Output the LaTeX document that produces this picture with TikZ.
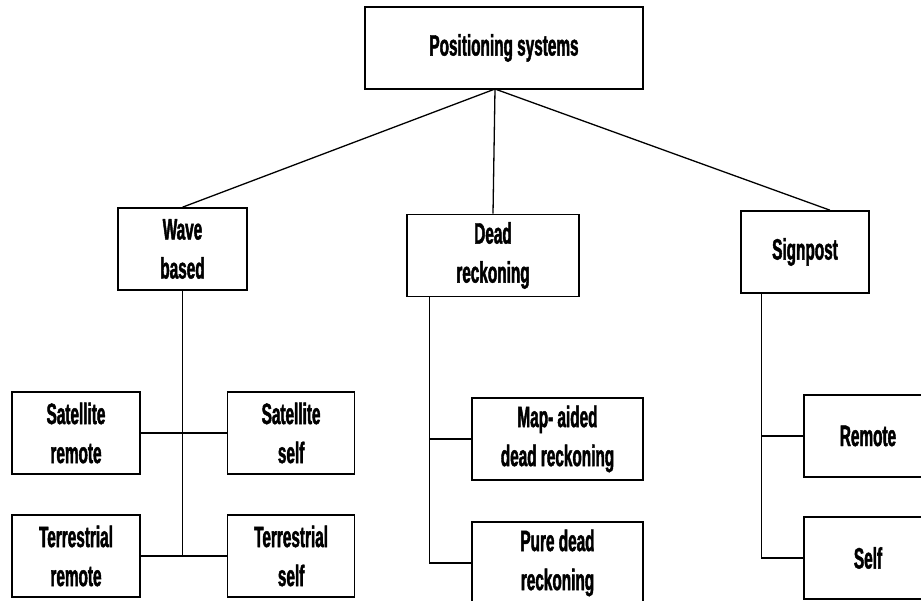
\documentclass[tikz,border=0pt]{standalone}
\usepackage{fontspec}
\newfontfamily\boxfont{Liberation Sans}[FakeStretch=0.52, FakeBold=1.5]
\usepackage{tikz}
\usetikzlibrary{positioning, calc}

\begin{document}
\begin{tikzpicture}[
    x=1pt, y=-1pt,
    sysbox/.style={draw, line width=1.6pt, minimum height=82pt, inner sep=2pt, align=center,
                   font=\boxfont\bfseries\fontsize{29.5}{39}\selectfont},
    link/.style={line width=1.3pt},
    ]
    \path[use as bounding box, fill=white] (0,0) rectangle (921,600);

    % root (top)
    \node[sysbox, minimum width=278pt] (pos) at (504,48) {Positioning systems};
    \coordinate (apex) at (495,89);

    % three branches
    \node[sysbox, minimum width=129pt] (wave) at (182.5,249) {Wave\\based};
    \node[sysbox, minimum width=172pt] (dead) at (493,255.5) {Dead\\reckoning};
    \node[sysbox, minimum width=128pt] (sign) at (805,252) {Signpost};

    % wave based leaves
    \node[sysbox, minimum width=128pt] (satr) at (76,433) {Satellite\\remote};
    \node[sysbox, minimum width=127pt, right=86pt of satr] (sats) {Satellite\\self};
    \node[sysbox, minimum width=128pt] (terr) at (76,556) {Terrestrial\\remote};
    \node[sysbox, minimum width=127pt, right=86pt of terr] (ters) {Terrestrial\\self};

    % dead reckoning leaves
    \node[sysbox, minimum width=171pt] (mapdr) at (557.5,439) {Map- aided\\dead reckoning};
    \node[sysbox, minimum width=171pt] (puredr) at (557.5,563) {Pure dead\\reckoning};

    % signpost leaves
    \node[sysbox, minimum width=128pt] (remote) at (868,436) {Remote};
    \node[sysbox, minimum width=128pt] (self) at (868,558) {Self};

    % root -> branches
    \draw[link] (apex) -- (wave.north);
    \draw[link] (apex) -- (dead.north);
    \draw[link] (apex) -- ($(sign.north)+(25,0)$);

    % wave based trunk
    \draw[link] (wave.south) -- (wave.south |- terr.east);
    \draw[link] (satr.east) -- (sats.west);
    \draw[link] (terr.east) -- (ters.west);

    % dead reckoning trunk
    \coordinate (dtrunk) at ($(dead.south west)+(23,0)$);
    \draw[link] (dtrunk) |- (puredr.west);
    \draw[link] (mapdr.west) -- (mapdr.west -| dtrunk);

    % signpost trunk
    \coordinate (strunk) at ($(sign.south west)+(21,0)$);
    \draw[link] (strunk) |- (self.west);
    \draw[link] (remote.west) -- (remote.west -| strunk);
\end{tikzpicture}
\end{document}
